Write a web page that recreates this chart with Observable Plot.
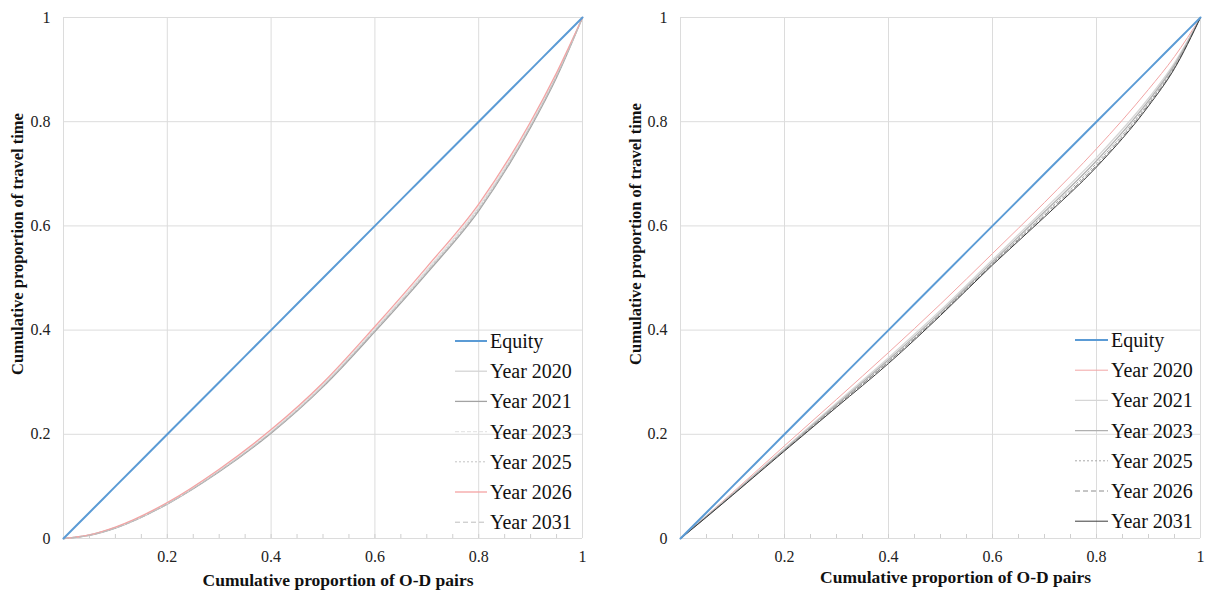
<!DOCTYPE html>
<html>
<head>
<meta charset="utf-8">
<script src="https://cdn.jsdelivr.net/npm/d3@7"></script>
<script src="https://cdn.jsdelivr.net/npm/@observablehq/plot@0.6"></script>
<style>
  html, body { margin: 0; padding: 0; background: #fff; }
  #wrap { position: relative; width: 1206px; height: 597px; overflow: hidden; font-family: "Liberation Serif", "Times New Roman", serif; }
  .panel { position: absolute; top: 0; }
  .panel text { font-family: "Liberation Serif", "Times New Roman", serif; }
  .legend { position: absolute; }
</style>
</head>
<body>
<div id="wrap"></div>
<script>
// ---- data ----
const xs = [0, 0.05, 0.1, 0.2, 0.3, 0.4, 0.5, 0.6, 0.7, 0.8, 0.9, 0.95, 1];
const seriesNames = ["Equity", "Year 2020", "Year 2021", "Year 2023", "Year 2025", "Year 2026", "Year 2031"];

// left panel
const leftEquity = [0, 0.05, 0.1, 0.2, 0.3, 0.4, 0.5, 0.6, 0.7, 0.8, 0.9, 0.95, 1];
const left2020 = [0, 0.007, 0.021, 0.067, 0.130, 0.205, 0.295, 0.402, 0.515, 0.636, 0.795, 0.890, 1];
const left2021 = [0, 0.006, 0.020, 0.066, 0.128, 0.202, 0.291, 0.397, 0.509, 0.629, 0.789, 0.885, 1];
const left2023 = [0, 0.007, 0.021, 0.067, 0.131, 0.206, 0.296, 0.403, 0.516, 0.637, 0.796, 0.891, 1];
const left2025 = [0, 0.007, 0.021, 0.067, 0.129, 0.204, 0.293, 0.400, 0.512, 0.633, 0.792, 0.888, 1];
const left2026 = [0, 0.007, 0.022, 0.069, 0.133, 0.209, 0.299, 0.407, 0.521, 0.642, 0.800, 0.894, 1];
const left2031 = [0, 0.006, 0.020, 0.066, 0.129, 0.203, 0.292, 0.399, 0.511, 0.631, 0.791, 0.887, 1];

// right panel
const rightEquity = [0, 0.05, 0.1, 0.2, 0.3, 0.4, 0.5, 0.6, 0.7, 0.8, 0.9, 0.95, 1];
const right2020 = [0, 0.044, 0.088, 0.178, 0.267, 0.357, 0.450, 0.547, 0.645, 0.748, 0.862, 0.925, 1];
const right2021 = [0, 0.043, 0.086, 0.173, 0.260, 0.347, 0.438, 0.535, 0.632, 0.731, 0.845, 0.913, 1];
const right2023 = [0, 0.042, 0.085, 0.171, 0.257, 0.343, 0.434, 0.531, 0.627, 0.725, 0.840, 0.909, 1];
const right2025 = [0, 0.042, 0.084, 0.170, 0.255, 0.340, 0.431, 0.528, 0.623, 0.720, 0.836, 0.906, 1];
const right2026 = [0, 0.042, 0.084, 0.169, 0.254, 0.339, 0.430, 0.527, 0.620, 0.716, 0.833, 0.904, 1];
const right2031 = [0, 0.041, 0.083, 0.168, 0.252, 0.336, 0.428, 0.525, 0.617, 0.713, 0.830, 0.902, 1];

const majorTicks = [0, 0.2, 0.4, 0.6, 0.8, 1];
const xTickLabels = [0.2, 0.4, 0.6, 0.8, 1];
const minorTicks = d3.range(1, 20).map(i => i * 0.05);
const xTitle = "Cumulative proportion of O-D pairs";
const yTitle = "Cumulative proportion of travel time";

const serif = "'Liberation Serif', 'Times New Roman', serif";

// ---- styles ----
const leftStyles = [
  {stroke: "#5b9bd5", width: 2, dash: null},
  {stroke: "#d4d4d4", width: 1.3, dash: null},
  {stroke: "#a3a3a3", width: 1.3, dash: null},
  {stroke: "#e6e6e6", width: 1.3, dash: "4,2"},
  {stroke: "#c4c4c4", width: 1, dash: "2,2"},
  {stroke: "#f4a3a3", width: 1.3, dash: null},
  {stroke: "#bdbdbd", width: 1, dash: "5,3"}
];
const rightStyles = [
  {stroke: "#5b9bd5", width: 2, dash: null},
  {stroke: "#f2a5a5", width: 1, dash: null},
  {stroke: "#d6d6d6", width: 1.3, dash: null},
  {stroke: "#b0b0b0", width: 1.3, dash: null},
  {stroke: "#a8a8a8", width: 1, dash: "2,2"},
  {stroke: "#8c8c8c", width: 1, dash: "5,3"},
  {stroke: "#3c3c3c", width: 1, dash: null}
];

function makeRows(arrays) {
  const rows = [];
  arrays.forEach((ys, si) => ys.forEach((y, i) => rows.push({series: seriesNames[si], si, x: xs[i], y})));
  return rows;
}

function panel(arrays, styles, m, titleOff) {
  const rows = makeRows(arrays);
  const lineMarks = styles.map((s, si) => Plot.line(rows.filter(r => r.si === si), {
    x: "x", y: "y", stroke: s.stroke, strokeWidth: s.width,
    strokeDasharray: s.dash || undefined, curve: "monotone-x"
  }));
  return Plot.plot({
    width: 603, height: 597,
    marginLeft: m.left, marginRight: m.right, marginTop: 17, marginBottom: 59,
    style: {fontFamily: serif, fontSize: "16px", color: "#222", background: "#fff"},
    x: {domain: [0, 1]},
    y: {domain: [0, 1]},
    marks: [
      Plot.gridX(majorTicks, {stroke: "#dcdcdc", strokeOpacity: 1}),
      Plot.gridY(majorTicks, {stroke: "#dcdcdc", strokeOpacity: 1}),
      Plot.axisX({ticks: minorTicks, tickSize: 4, dy: -4, tickFormat: () => "", stroke: "#cfcfcf", label: null}),
      Plot.axisX({ticks: xTickLabels, tickSize: 0, tickPadding: 12, tickFormat: d => String(d), label: null, fill: "#222", fontFamily: serif, fontSize: 16}),
      Plot.axisY({ticks: majorTicks, tickSize: 0, tickPadding: 13, tickFormat: d => String(d), label: null, fill: "#222", fontFamily: serif, fontSize: 16}),
      ...lineMarks.slice(1),
      lineMarks[0],
      Plot.text([xTitle], {frameAnchor: "bottom", textAnchor: "middle", dx: titleOff.xdx, dy: titleOff.xdy, fontWeight: "bold", fontSize: 17.5, fill: "#111", fontFamily: serif}),
      Plot.text([yTitle], {frameAnchor: "left", textAnchor: "middle", rotate: -90, dx: titleOff.ydx, dy: titleOff.ydy, fontWeight: "bold", fontSize: 16.5, fill: "#111", fontFamily: serif})
    ]
  });
}

function legend(styles, lineLen) {
  const rowH = 30.2;
  const svg = d3.create("svg").attr("width", 150).attr("height", 7 * rowH + 10)
    .style("font-family", serif);
  seriesNames.forEach((name, i) => {
    const y = 10 + i * rowH;
    const s = styles[i];
    svg.append("line").attr("x1", 0).attr("x2", lineLen).attr("y1", y).attr("y2", y)
      .attr("stroke", s.stroke).attr("stroke-width", s.width)
      .attr("stroke-dasharray", s.dash);
    svg.append("text").attr("x", lineLen + 3).attr("y", y).attr("dy", "0.35em")
      .attr("font-size", 20).attr("fill", "#111").text(name);
  });
  return svg.node();
}

const wrap = document.getElementById("wrap");
const leftPlot = panel([leftEquity, left2020, left2021, left2023, left2025, left2026, left2031], leftStyles,
  {left: 63, right: 21}, {xdx: 15, xdy: 47, ydx: -46, ydy: -34});
leftPlot.classList.add("panel"); leftPlot.style.left = "0px";
wrap.appendChild(leftPlot);

const rightPlot = panel([rightEquity, right2020, right2021, right2023, right2025, right2026, right2031], rightStyles,
  {left: 77, right: 6}, {xdx: 15, xdy: 44, ydx: -45, ydy: -44});
rightPlot.classList.add("panel"); rightPlot.style.left = "603px";
wrap.appendChild(rightPlot);

const lg1 = legend(leftStyles, 32); lg1.classList.add("legend");
lg1.style.left = "455px"; lg1.style.top = "331px";
wrap.appendChild(lg1);
const lg2 = legend(rightStyles, 33); lg2.classList.add("legend");
lg2.style.left = "1075px"; lg2.style.top = "330px";
wrap.appendChild(lg2);
</script>
</body>
</html>
